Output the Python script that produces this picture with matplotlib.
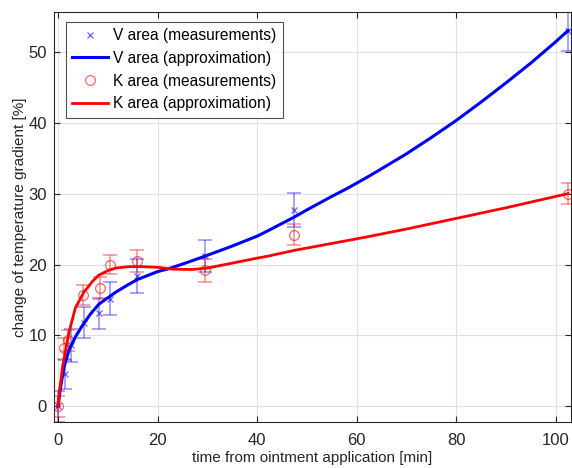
import matplotlib
matplotlib.use("Agg")
import matplotlib.pyplot as plt

plt.rcParams['font.family'] = ['Liberation Sans', 'DejaVu Sans']

# measurements
v_x = [0, 1.5, 2.6, 5.2, 8.3, 10.5, 15.8, 29.5, 47.5, 102.5]
v_y = [0, 4.5, 8.6, 11.8, 13.1, 15.2, 18.4, 21.2, 27.7, 52.9]
v_err = [2.2, 2.1, 2.3, 2.2, 2.2, 2.3, 2.4, 2.2, 2.4, 2.8]

k_x = [0, 1.2, 2.0, 5.0, 8.4, 10.5, 15.8, 29.5, 47.5, 102.5]
k_y = [0, 8.2, 9.3, 15.7, 16.7, 20.0, 20.5, 19.2, 24.2, 30.0]
k_err = [1.5, 1.5, 1.5, 1.4, 1.6, 1.4, 1.5, 1.6, 1.5, 1.5]

# approximation curves
va_x = [0, 0.5, 1.2, 2.2, 3.5, 4.9, 6.5, 8.2, 10, 11.6, 14.2, 16, 20, 22.2, 26, 30,
        35, 40, 42.3, 47.5, 50, 55, 58.3, 62.1, 65, 70, 75, 80, 85, 90, 95, 100, 102.5]
va_y = [0, 2.6, 5.5, 7.9, 9.8, 11.4, 13.0, 14.4, 15.3, 16.1, 17.2, 17.9, 19.0, 19.4, 20.3, 21.3,
        22.6, 24.0, 24.8, 26.7, 27.7, 29.6, 30.8, 32.3, 33.5, 35.6, 37.9, 40.3, 42.9, 45.6, 48.4, 51.4, 53.0]

ka_x = [0, 0.4, 0.9, 1.9, 2.2, 3.5, 5.2, 6.9, 8.2, 10.2, 11.6, 14.2, 17, 20.2, 23, 26.9, 30,
        33.6, 40, 42.3, 47.5, 58.3, 62.1, 70, 80, 90, 100, 102.5]
ka_y = [0, 2.6, 5.5, 9.3, 10.4, 13.9, 16.1, 17.6, 18.5, 19.2, 19.5, 19.7, 19.7, 19.6, 19.35, 19.3, 19.5,
        20.0, 20.9, 21.2, 22.0, 23.4, 23.9, 25.0, 26.5, 28.0, 29.6, 30.0]

fig = plt.figure(figsize=(5.72, 4.68), dpi=100)
ax = fig.add_axes([0.0944, 0.0983, 0.904, 0.876])

blue = (0, 0, 1)
red = (1, 0, 0)
dark = (0.15, 0.15, 0.15)

ax.errorbar(v_x, v_y, yerr=v_err, fmt='none', ecolor=blue, alpha=0.45, elinewidth=1.1, capsize=5, capthick=1.1, zorder=2)
ax.errorbar(k_x, k_y, yerr=k_err, fmt='none', ecolor=red, alpha=0.45, elinewidth=1.1, capsize=5, capthick=1.1, zorder=2)

ax.plot(v_x, v_y, linestyle='none', marker='x', color=blue, alpha=0.6, markersize=5, markeredgewidth=0.9,
        label='V area (measurements)', zorder=3)
ax.plot(va_x, va_y, color=blue, lw=2.2, label='V area (approximation)', zorder=4)
ax.plot(k_x, k_y, linestyle='none', marker='o', markerfacecolor='none', markeredgecolor=red, alpha=0.6,
        markersize=7, markeredgewidth=0.9, label='K area (measurements)', zorder=3)
ax.plot(ka_x, ka_y, color=red, lw=2.0, label='K area (approximation)', zorder=4)

ax.set_xlim(-0.8, 103.1)
ax.set_ylim(-2.2, 55.6)
ax.set_xticks([0, 20, 40, 60, 80, 100])
ax.set_yticks([0, 10, 20, 30, 40, 50])
ax.grid(True, color=(0.88, 0.88, 0.88), lw=0.8)
ax.set_axisbelow(True)
ax.tick_params(direction='in', top=True, right=True, labelsize=12, colors=dark, length=4)
ax.tick_params(axis='x', pad=8)
ax.tick_params(axis='y', pad=5)
for s in ax.spines.values():
    s.set_color(dark)
    s.set_linewidth(0.8)

ax.set_xlabel('time from ointment application [min]', fontsize=11, color=dark, labelpad=2)
ax.set_ylabel('change of temperature gradient [%]', fontsize=11, color=dark, labelpad=1)

leg = ax.legend(loc='upper left', prop={'size': 11.2}, frameon=True, fancybox=False, edgecolor=dark,
                borderpad=0.4, handlelength=2.3, handletextpad=0.35, labelspacing=0.5,
                bbox_to_anchor=(0.023, 0.976), borderaxespad=0.0)
leg.get_frame().set_linewidth(0.8)

fig.savefig('out.png', dpi=100)
